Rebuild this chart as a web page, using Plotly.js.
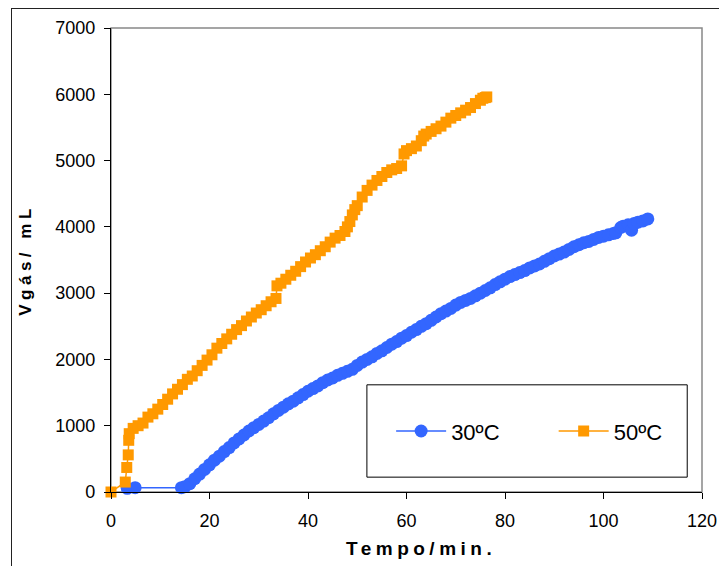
<!DOCTYPE html>
<html>
<head>
<meta charset="utf-8">
<script src="https://cdn.plot.ly/plotly-3.0.1.min.js"></script>
<style>
  html, body { margin: 0; padding: 0; overflow: hidden; background: #fff; }
  #wrap { position: relative; width: 719px; height: 566px; }
  #chart { position: absolute; left: 0; top: 0; width: 719px; height: 566px; }
  #frame { position: absolute; left: 11px; top: 8px; width: 900px; height: 800px;
           border-left: 1.5px solid #222; border-top: 1.5px solid #222; pointer-events: none; }
  .ytitle, .annotation-text { letter-spacing: 4.5px; }
</style>
</head>
<body>
<div id="wrap">
  <div id="chart"></div>
  <div id="frame"></div>
</div>
<script>
// ---- Data ----
const seriesNames = ["30ºC", "50ºC"];

const t30 = [3.3, 4.9, 14.3, 15, 16, 17, 18, 19, 20, 21, 22, 23, 24, 25, 26, 27, 28, 29, 30,
  31, 32, 33, 34, 35, 36, 37, 38, 39, 40, 41, 42, 43, 44, 45, 46, 47, 48, 49, 50,
  51, 52, 53, 54, 55, 56, 57, 58, 59, 60, 61, 62, 63, 64, 65, 66, 67, 68, 69, 70,
  71, 72, 73, 74, 75, 76, 77, 78, 79, 80, 81, 82, 83, 84, 85, 86, 87, 88, 89, 90,
  91, 92, 93, 94, 95, 96, 97, 98, 99, 100, 101, 102, 102.5, 103.5, 104, 105, 105.7, 106.2, 107, 108, 109];
const v30 = [55, 65, 65, 80, 125, 200, 270, 340, 410, 480, 540, 610, 670, 740, 800, 860, 920, 970, 1020,
  1070, 1120, 1180, 1230, 1280, 1330, 1370, 1420, 1470, 1520, 1560, 1600, 1650, 1690, 1720, 1760, 1790, 1820, 1850, 1910,
  1960, 2000, 2040, 2090, 2130, 2180, 2230, 2270, 2320, 2360, 2410, 2450, 2500, 2540, 2590, 2640, 2690, 2730, 2770, 2820,
  2860, 2890, 2920, 2960, 3000, 3040, 3080, 3130, 3170, 3210, 3250, 3280, 3310, 3340, 3380, 3410, 3440, 3480, 3520, 3560,
  3590, 3620, 3660, 3700, 3730, 3760, 3780, 3810, 3840, 3860, 3880, 3900, 3910, 3990, 4010, 4030, 3950, 4050, 4070, 4090, 4120];

const t50 = [0, 2.9, 3.2, 3.5, 3.6, 3.7, 4.5, 5.5, 6.5, 7.5, 8.5, 9.5, 10.5, 11.5, 12.5, 13.5, 14.5, 15.5,
  16.5, 17.5, 18.5, 19.5, 20.5, 21.5, 22.5, 23.5, 24.5, 25.5, 26.5, 27.5, 28.5, 29.5, 30.5, 31.5, 32.5, 33.5,
  33.7, 34.5, 35.5, 36.5, 37.5, 38.5, 39.5, 40.5, 41.5, 42.5, 43.5, 44.5, 45.5, 46.5, 47.5, 48, 48.5, 49, 49.5,
  50, 51, 52, 53, 54, 55, 56, 57, 58, 59, 59.5, 60, 61, 62, 63, 63.5, 64, 65, 66, 67, 68, 69, 70,
  71, 72, 73, 74, 75, 75.5, 76, 76.3];
const v50 = [0, 150, 370, 560, 780, 880, 960, 1000, 1040, 1130, 1180, 1250, 1320, 1400, 1480, 1550, 1620, 1700,
  1750, 1830, 1910, 1990, 2070, 2170, 2240, 2310, 2380, 2450, 2510, 2580, 2640, 2700, 2750, 2810, 2870, 2920,
  3110, 3150, 3210, 3270, 3330, 3400, 3470, 3530, 3580, 3640, 3700, 3770, 3830, 3870, 3930, 4000, 4080, 4180, 4260,
  4320, 4450, 4550, 4630, 4700, 4760, 4820, 4860, 4880, 4920, 5100, 5150, 5180, 5220, 5300, 5370, 5400, 5440, 5480, 5520, 5580, 5640, 5680,
  5720, 5760, 5800, 5860, 5910, 5940, 5950, 5960];

const xTicks = [0, 20, 40, 60, 80, 100, 120];
const yTicks = [0, 1000, 2000, 3000, 4000, 5000, 6000, 7000];
const xTitle = "Tempo/min.";
const yTitle = "Vgás/ mL";

const blue = "#3366FF";
const orange = "#FF9900";
const font = "Liberation Sans, Arial, sans-serif";

const traces = [
  { x: t30, y: v30, name: seriesNames[0], type: "scatter", mode: "lines+markers", cliponaxis: false,
    legend: "legend",
    line: { color: blue, width: 1.5 }, marker: { symbol: "circle", size: 13, color: blue } },
  { x: t50, y: v50, name: seriesNames[1], type: "scatter", mode: "lines+markers", cliponaxis: false,
    legend: "legend2",
    line: { color: orange, width: 1.5 }, marker: { symbol: "square", size: 11, color: orange } }
];

const legendBase = {
  orientation: "h", y: 0.131, xanchor: "left", yanchor: "middle",
  bgcolor: "rgba(0,0,0,0)", borderwidth: 0, itemwidth: 50,
  font: { family: font, size: 22, color: "#000" }
};

const layout = {
  width: 719, height: 566,
  margin: { l: 111, r: 17, t: 28, b: 74, pad: 0 },
  paper_bgcolor: "#fff", plot_bgcolor: "#fff",
  font: { family: font, color: "#000" },
  showlegend: true,
  legend: Object.assign({}, legendBase, { x: 0.474 }),
  legend2: Object.assign({}, legendBase, { x: 0.749 }),
  xaxis: {
    range: [0, 120], tickvals: xTicks, ticktext: xTicks.map(String),
    ticks: "outside", ticklen: 6, tickcolor: "#000", tickwidth: 1, ticklabelstandoff: 6,
    showline: true, linecolor: "#000", linewidth: 1.2, showgrid: false, zeroline: false,
    tickfont: { family: font, size: 18, color: "#000" }
  },
  yaxis: {
    range: [0, 7000], tickvals: yTicks, ticktext: yTicks.map(String),
    ticks: "outside", ticklen: 6, tickcolor: "#000", tickwidth: 1, ticklabelstandoff: 5,
    showline: true, linecolor: "#000", linewidth: 1.2, showgrid: false, zeroline: false,
    tickfont: { family: font, size: 18, color: "#000" },
    title: { text: yTitle, font: { family: font, size: 17, weight: "bold", color: "#000" }, standoff: 19 }
  },
  annotations: [
    { text: xTitle, xref: "paper", yref: "paper", x: 0.5245, y: 0, xanchor: "center", yanchor: "middle",
      yshift: -56, showarrow: false, font: { family: font, size: 19, weight: "bold", color: "#000" } }
  ],
  shapes: [
    { type: "rect", xref: "paper", yref: "paper", x0: 0, x1: 1, y0: 0, y1: 1,
      line: { color: "#888", width: 1.5 }, layer: "below" },
    { type: "rect", xref: "paper", yref: "paper", x0: 0.433, x1: 0.975, y0: 0.032, y1: 0.231,
      line: { color: "#000", width: 1 }, fillcolor: "#fff", layer: "above" }
  ]
};

Plotly.newPlot("chart", traces, layout, { displayModeBar: false, staticPlot: true });
</script>
</body>
</html>
